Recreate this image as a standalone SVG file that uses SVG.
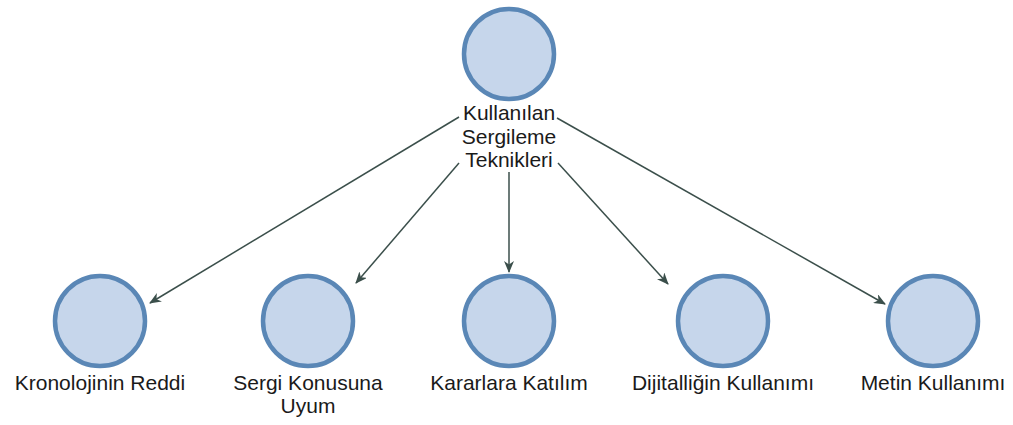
<svg xmlns="http://www.w3.org/2000/svg" width="1013" height="425" viewBox="0 0 1013 425">
  <style>
    .node circle { fill: #c6d6eb; stroke: #5a87b6; stroke-width: 4.5; }
    .node text { font-family: "Liberation Sans", Arial, sans-serif; font-size: 21px; fill: #1a1a1a; text-anchor: middle; }
    .edge { stroke: #3b4f4b; stroke-width: 1.5; fill: none; marker-end: url(#arrow); }
  </style>
  <defs>
    <marker id="arrow" viewBox="0 0 12 10" refX="11" refY="5" markerWidth="12" markerHeight="10" markerUnits="userSpaceOnUse" orient="auto">
      <path d="M0,0 L12,5 L0,10 L3.5,5 Z" fill="#3b4f4b"/>
    </marker>
  </defs>
  <rect width="1013" height="425" fill="#ffffff"/>

  <g id="connectors">
    <line class="edge" x1="459" y1="117" x2="150" y2="303"/>
    <line class="edge" x1="459" y1="163" x2="356" y2="283"/>
    <line class="edge" x1="509" y1="172" x2="509" y2="272"/>
    <line class="edge" x1="558" y1="163" x2="668" y2="284"/>
    <line class="edge" x1="557" y1="118" x2="885" y2="304"/>
  </g>

  <g id="root" class="node">
    <circle cx="509" cy="54" r="45"/>
    <text x="509" y="120">Kullanılan</text>
    <text x="509" y="143.5">Sergileme</text>
    <text x="509" y="167">Teknikleri</text>
  </g>

  <g id="kronoloji" class="node">
    <circle cx="100" cy="321" r="45"/>
    <text x="100" y="390">Kronolojinin Reddi</text>
  </g>

  <g id="sergi" class="node">
    <circle cx="308" cy="321" r="45"/>
    <text x="308" y="390">Sergi Konusuna</text>
    <text x="308" y="413">Uyum</text>
  </g>

  <g id="kararlar" class="node">
    <circle cx="509" cy="321" r="45"/>
    <text x="509" y="390">Kararlara Katılım</text>
  </g>

  <g id="dijital" class="node">
    <circle cx="723" cy="321" r="45"/>
    <text x="723" y="390">Dijitalliğin Kullanımı</text>
  </g>

  <g id="metin" class="node">
    <circle cx="933" cy="321" r="45"/>
    <text x="933" y="390">Metin Kullanımı</text>
  </g>
</svg>
